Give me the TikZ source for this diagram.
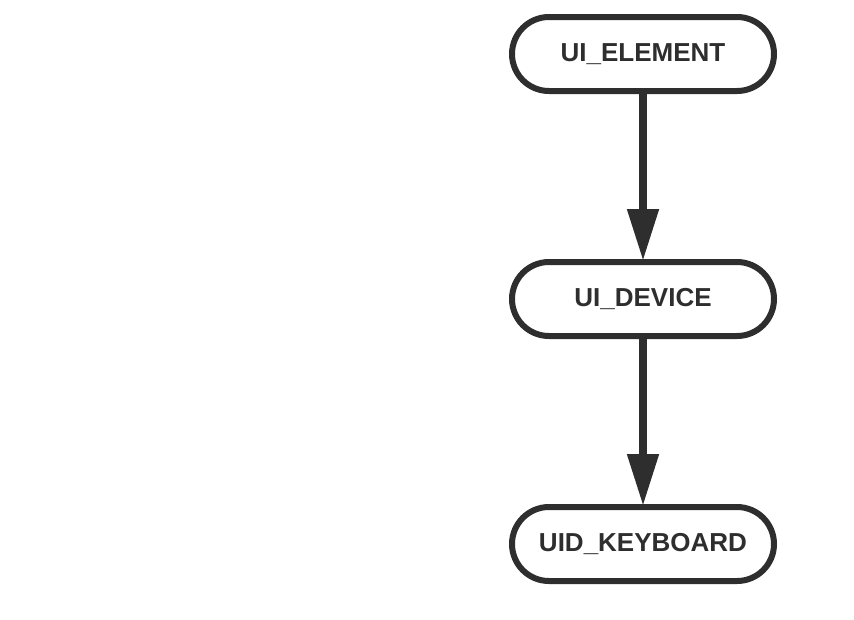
\documentclass[tikz,border=0pt]{standalone}
\usepackage{fontspec}
\setmainfont{Liberation Sans}
\usetikzlibrary{arrows.meta}
\definecolor{ink}{HTML}{2E2E2E}
\begin{document}
\begin{tikzpicture}[x=1pt,y=-1pt,
  term/.style={draw=ink, line width=6pt, rounded corners=37pt, minimum width=262pt, minimum height=74pt, inner sep=0pt, text=ink, font=\fontsize{26}{26}\selectfont\bfseries},
  flow/.style={draw=ink, line width=8pt, -{Triangle[length=52pt,width=30pt]}, shorten >=-2pt}]
\useasboundingbox (0,0) rectangle (854,619);
\node[term] (a) at (643,54) {UI\_ELEMENT};
\node[term] (b) at (643,299) {UI\_DEVICE};
\node[term] (c) at (643,544) {UID\_KEYBOARD};
\draw[flow] (a) -- (b);
\draw[flow] (b) -- (c);
\end{tikzpicture}
\end{document}
